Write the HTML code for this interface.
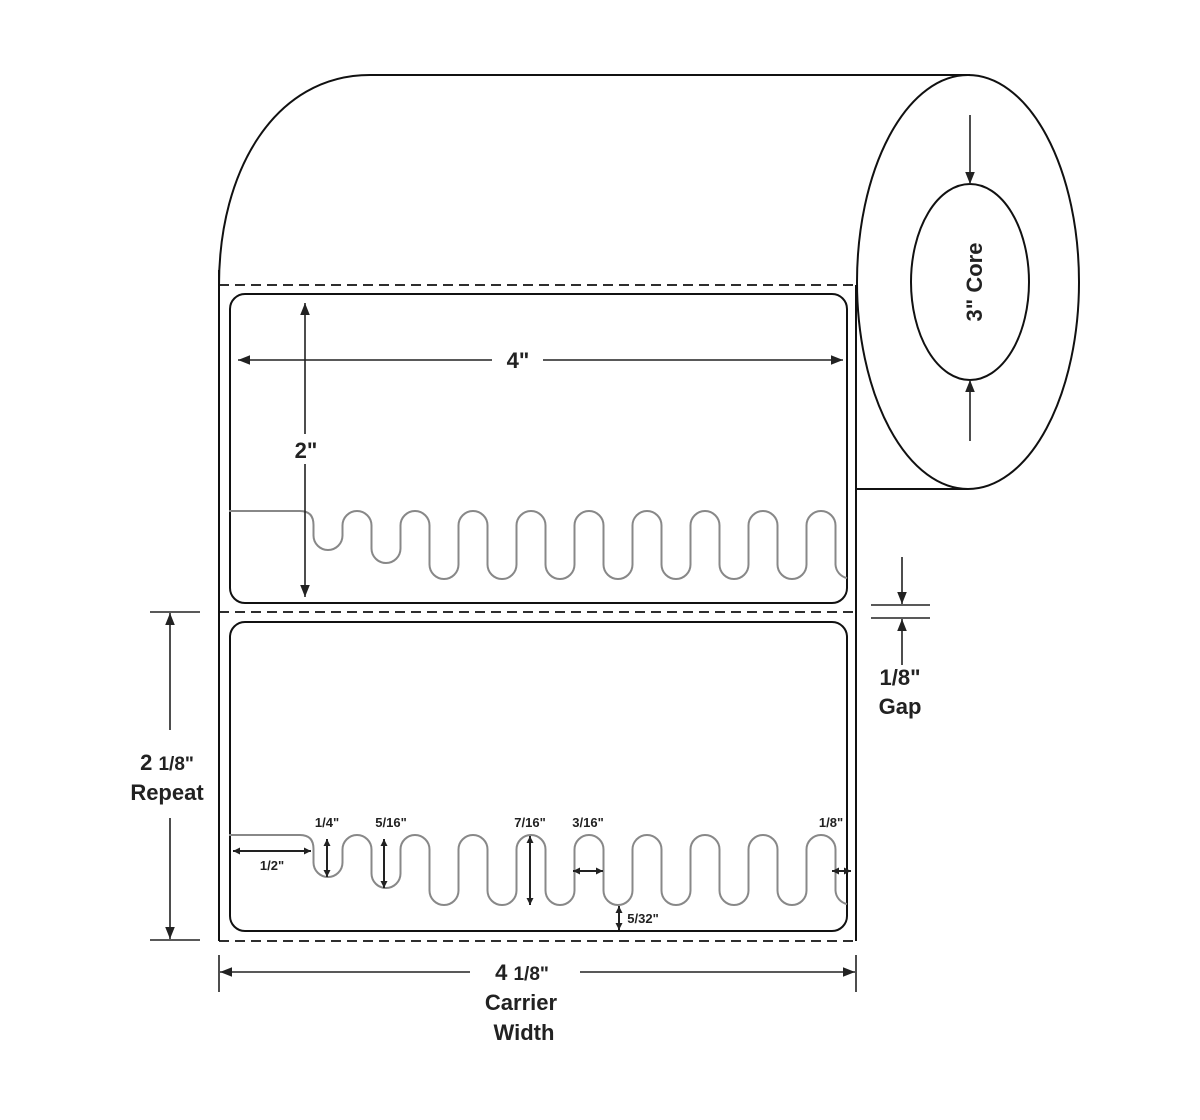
<!DOCTYPE html>
<html><head><meta charset="utf-8"><style>
html,body{margin:0;padding:0;background:#fff;}
svg{display:block;}
text{font-family:"Liberation Sans",Arial,sans-serif;font-weight:bold;fill:#222;}
</style></head><body>
<svg width="1200" height="1120" viewBox="0 0 1200 1120" xmlns="http://www.w3.org/2000/svg">
<defs>
<marker id="a" viewBox="0 0 10 10" refX="10" refY="5" markerWidth="12" markerHeight="12" orient="auto-start-reverse" markerUnits="userSpaceOnUse"><path d="M0,1 L10,5 L0,9 z" fill="#222"/></marker>
<marker id="s" viewBox="0 0 10 10" refX="10" refY="5" markerWidth="7" markerHeight="7" orient="auto-start-reverse" markerUnits="userSpaceOnUse"><path d="M0,0 L10,5 L0,10 z" fill="#222"/></marker>
</defs>
<g fill="none" stroke="#111" stroke-width="2">
<path d="M219,285 C219,170 275,75 370,75 H970"/>
<ellipse cx="968" cy="282" rx="111" ry="207" fill="#fff"/>
<line x1="856" y1="489" x2="968" y2="489"/>
<ellipse cx="970" cy="282" rx="59" ry="98"/>
<line x1="219" y1="270" x2="219" y2="941"/>
<line x1="856" y1="285" x2="856" y2="941"/>
<g stroke-dasharray="10,6" stroke-width="1.8">
<line x1="219" y1="285" x2="856" y2="285"/>
<line x1="219" y1="612" x2="856" y2="612"/>
<line x1="219" y1="941" x2="856" y2="941"/>
</g>
<rect x="230" y="294" width="617" height="309" rx="15"/>
<rect x="230" y="622" width="617" height="309" rx="15"/>
</g>
<g fill="none" stroke="#888" stroke-width="2">
<path d="M229,511 H300 Q313.5,511 313.5,525 V535.5 A14.5,14.5 0 0 0 342.5,535.5 V525.5 A14.5,14.5 0 0 1 371.5,525.5 V548.5 A14.5,14.5 0 0 0 400.5,548.5 V525.5 A14.5,14.5 0 0 1 429.5,525.5 V564.5 A14.5,14.5 0 0 0 458.5,564.5 V525.5 A14.5,14.5 0 0 1 487.5,525.5 V564.5 A14.5,14.5 0 0 0 516.5,564.5 V525.5 A14.5,14.5 0 0 1 545.5,525.5 V564.5 A14.5,14.5 0 0 0 574.5,564.5 V525.5 A14.5,14.5 0 0 1 603.5,525.5 V564.5 A14.5,14.5 0 0 0 632.5,564.5 V525.5 A14.5,14.5 0 0 1 661.5,525.5 V564.5 A14.5,14.5 0 0 0 690.5,564.5 V525.5 A14.5,14.5 0 0 1 719.5,525.5 V564.5 A14.5,14.5 0 0 0 748.5,564.5 V525.5 A14.5,14.5 0 0 1 777.5,525.5 V564.5 A14.5,14.5 0 0 0 806.5,564.5 V525.5 A14.5,14.5 0 0 1 835.5,525.5 V564.5 A14.5,14.5 0 0 0 847,578"/>
<path d="M229,835 H300 Q313.5,835 313.5,849 V862.5 A14.5,14.5 0 0 0 342.5,862.5 V849.5 A14.5,14.5 0 0 1 371.5,849.5 V873.5 A14.5,14.5 0 0 0 400.5,873.5 V849.5 A14.5,14.5 0 0 1 429.5,849.5 V890.5 A14.5,14.5 0 0 0 458.5,890.5 V849.5 A14.5,14.5 0 0 1 487.5,849.5 V890.5 A14.5,14.5 0 0 0 516.5,890.5 V849.5 A14.5,14.5 0 0 1 545.5,849.5 V890.5 A14.5,14.5 0 0 0 574.5,890.5 V849.5 A14.5,14.5 0 0 1 603.5,849.5 V890.5 A14.5,14.5 0 0 0 632.5,890.5 V849.5 A14.5,14.5 0 0 1 661.5,849.5 V890.5 A14.5,14.5 0 0 0 690.5,890.5 V849.5 A14.5,14.5 0 0 1 719.5,849.5 V890.5 A14.5,14.5 0 0 0 748.5,890.5 V849.5 A14.5,14.5 0 0 1 777.5,849.5 V890.5 A14.5,14.5 0 0 0 806.5,890.5 V849.5 A14.5,14.5 0 0 1 835.5,849.5 V890.5 A14.5,14.5 0 0 0 847,904"/>
</g>
<g fill="none" stroke="#222" stroke-width="1.6">
<line x1="970" y1="115" x2="970" y2="184" marker-end="url(#a)"/>
<line x1="970" y1="441" x2="970" y2="380" marker-end="url(#a)"/>
<line x1="492" y1="360" x2="238" y2="360" marker-end="url(#a)"/>
<line x1="543" y1="360" x2="843" y2="360" marker-end="url(#a)"/>
<line x1="305" y1="303" x2="305" y2="597" marker-start="url(#a)" marker-end="url(#a)"/>
<line x1="871" y1="605" x2="930" y2="605"/>
<line x1="871" y1="618" x2="930" y2="618"/>
<line x1="902" y1="557" x2="902" y2="604" marker-end="url(#a)"/>
<line x1="902" y1="665" x2="902" y2="619" marker-end="url(#a)"/>
<line x1="150" y1="612" x2="200" y2="612"/>
<line x1="150" y1="940" x2="200" y2="940"/>
<line x1="170" y1="730" x2="170" y2="613" marker-end="url(#a)"/>
<line x1="170" y1="818" x2="170" y2="939" marker-end="url(#a)"/>
<line x1="219" y1="955" x2="219" y2="992"/>
<line x1="856" y1="955" x2="856" y2="992"/>
<line x1="470" y1="972" x2="220" y2="972" marker-end="url(#a)"/>
<line x1="580" y1="972" x2="855" y2="972" marker-end="url(#a)"/>
<g stroke-width="2">
<line x1="233" y1="851" x2="311" y2="851" marker-start="url(#s)" marker-end="url(#s)"/>
<line x1="327" y1="839" x2="327" y2="877" marker-start="url(#s)" marker-end="url(#s)"/>
<line x1="384" y1="839" x2="384" y2="888" marker-start="url(#s)" marker-end="url(#s)"/>
<line x1="530" y1="836" x2="530" y2="905" marker-start="url(#s)" marker-end="url(#s)"/>
<line x1="573" y1="871" x2="603" y2="871" marker-start="url(#s)" marker-end="url(#s)"/>
<line x1="832" y1="871" x2="851" y2="871" marker-start="url(#s)" marker-end="url(#s)"/>
<line x1="619" y1="906" x2="619" y2="930" marker-start="url(#s)" marker-end="url(#s)"/>
</g>
</g>
<rect x="290" y="434" width="30" height="30" fill="#fff"/>
<g text-anchor="middle" font-size="22">
<text x="518" y="368">4"</text>
<text x="306" y="458">2"</text>
<text x="978" y="282" transform="rotate(-90 978 282)" dominant-baseline="middle" dy="-2">3" Core</text>
<text x="900" y="685">1/8"</text>
<text x="900" y="714">Gap</text>
<text x="167" y="770">2 <tspan font-size="19">1/8"</tspan></text>
<text x="167" y="800">Repeat</text>
<text x="522" y="980">4 <tspan font-size="19">1/8"</tspan></text>
<text x="521" y="1010">Carrier</text>
<text x="524" y="1040">Width</text>
</g>
<g text-anchor="middle" font-size="13">
<text x="327" y="827">1/4"</text>
<text x="391" y="827">5/16"</text>
<text x="530" y="827">7/16"</text>
<text x="588" y="827">3/16"</text>
<text x="831" y="827">1/8"</text>
<text x="272" y="870">1/2"</text>
<text x="643" y="923">5/32"</text>
</g>
</svg>
</body></html>
